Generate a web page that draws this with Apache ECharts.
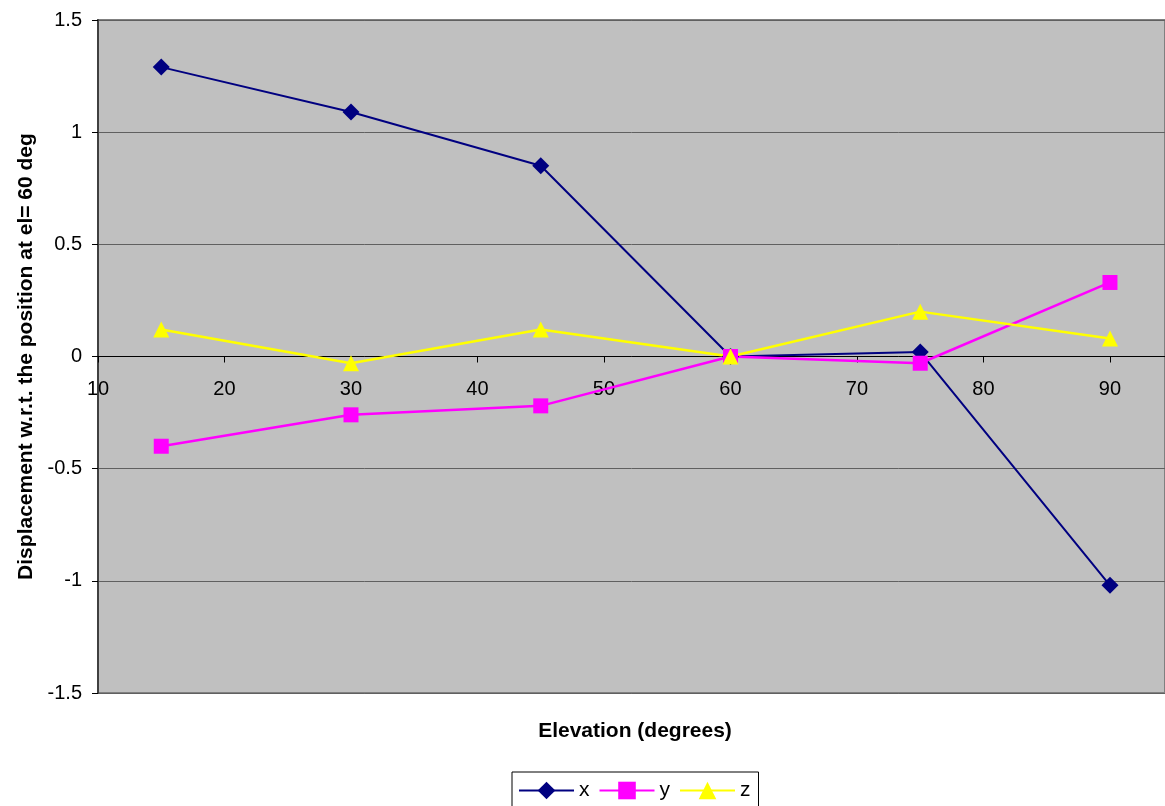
<!DOCTYPE html>
<html>
<head>
<meta charset="utf-8">
<style>
  html, body { margin: 0; padding: 0; background: #ffffff; }
  #chart { width: 1165px; height: 806px; }
</style>
<script src="https://cdn.jsdelivr.net/npm/echarts@6/dist/echarts.min.js"></script>
</head>
<body>
<div id="chart"></div>
<script>
// Elevation angles (degrees) at which the displacement was measured
const elevations = [15, 30, 45, 60, 75, 90];

// Displacement relative to the position at el = 60 deg
const xValues = [1.29, 1.09, 0.85, 0, 0.02, -1.02];
const yValues = [-0.40, -0.26, -0.22, 0, -0.03, 0.33];
const zValues = [0.12, -0.03, 0.12, 0, 0.20, 0.08];

// Tick positions along the elevation axis
const elevationTicks = [10, 20, 30, 40, 50, 60, 70, 80, 90];

const FONT = "'Liberation Sans', Arial, sans-serif";

function pairs(values) {
  return elevations.map((e, i) => [e, values[i]]);
}

const chart = echarts.init(document.getElementById('chart'), null, { renderer: 'canvas' });

chart.setOption({
  animation: false,
  backgroundColor: '#ffffff',
  textStyle: { fontFamily: FONT },
  grid: {
    left: 98,
    top: 20,
    bottom: 113,
    right: 0,
    show: true,
    backgroundColor: '#C0C0C0',
    borderColor: '#808080',
    borderWidth: 2
  },
  xAxis: {
    type: 'value',
    min: 10,
    max: 94.35,
    axisLine: { onZero: true, lineStyle: { color: '#000000', width: 1 } },
    axisTick: { show: true, inside: false, length: 6, customValues: elevationTicks, lineStyle: { color: '#000000' } },
    // labels sit just below the zero line rather than at the bottom edge
    axisLabel: { color: '#000000', fontSize: 20, fontFamily: FONT, margin: -314, customValues: elevationTicks },
    splitLine: { show: false }
  },
  yAxis: {
    type: 'value',
    min: -1.5,
    max: 1.5,
    interval: 0.5,
    name: 'Displacement w.r.t. the position at el= 60 deg',
    nameLocation: 'middle',
    nameGap: 61,
    nameRotate: 90,
    nameTextStyle: { color: '#000000', fontSize: 21, fontWeight: 'bold', fontFamily: FONT },
    axisLine: { show: true, lineStyle: { color: '#404040', width: 2 } },
    axisTick: { show: true, inside: false, length: 6, lineStyle: { color: '#000000' } },
    axisLabel: { color: '#000000', fontSize: 20, fontFamily: FONT, margin: 16 },
    splitLine: { show: true, lineStyle: { color: '#606060', width: 1 } }
  },
  legend: {
    show: true,
    left: 512,
    top: 772,
    orient: 'horizontal',
    backgroundColor: '#ffffff',
    borderColor: '#000000',
    borderWidth: 1,
    padding: [8, 8, 8, 6],
    itemWidth: 55,
    itemHeight: 22,
    itemGap: 9,
    textStyle: { color: '#000000', fontSize: 21, fontFamily: FONT },
    data: ['x', 'y', 'z']
  },
  graphic: [
    {
      type: 'text',
      style: {
        x: 635,
        y: 731,
        text: 'Elevation (degrees)',
        fill: '#000000',
        font: "bold 21px 'Liberation Sans', Arial, sans-serif",
        textAlign: 'center',
        textVerticalAlign: 'middle'
      }
    }
  ],
  series: [
    {
      name: 'x',
      type: 'line',
      data: pairs(xValues),
      symbol: 'diamond',
      symbolSize: 17,
      lineStyle: { color: '#000080', width: 2 },
      itemStyle: { color: '#000080' }
    },
    {
      name: 'y',
      type: 'line',
      data: pairs(yValues),
      symbol: 'rect',
      symbolSize: 15,
      lineStyle: { color: '#FF00FF', width: 2.5 },
      itemStyle: { color: '#FF00FF' }
    },
    {
      name: 'z',
      type: 'line',
      data: pairs(zValues),
      symbol: 'triangle',
      symbolSize: 16,
      lineStyle: { color: '#FFFF00', width: 2.5 },
      itemStyle: { color: '#FFFF00' }
    }
  ]
});
</script>
</body>
</html>
